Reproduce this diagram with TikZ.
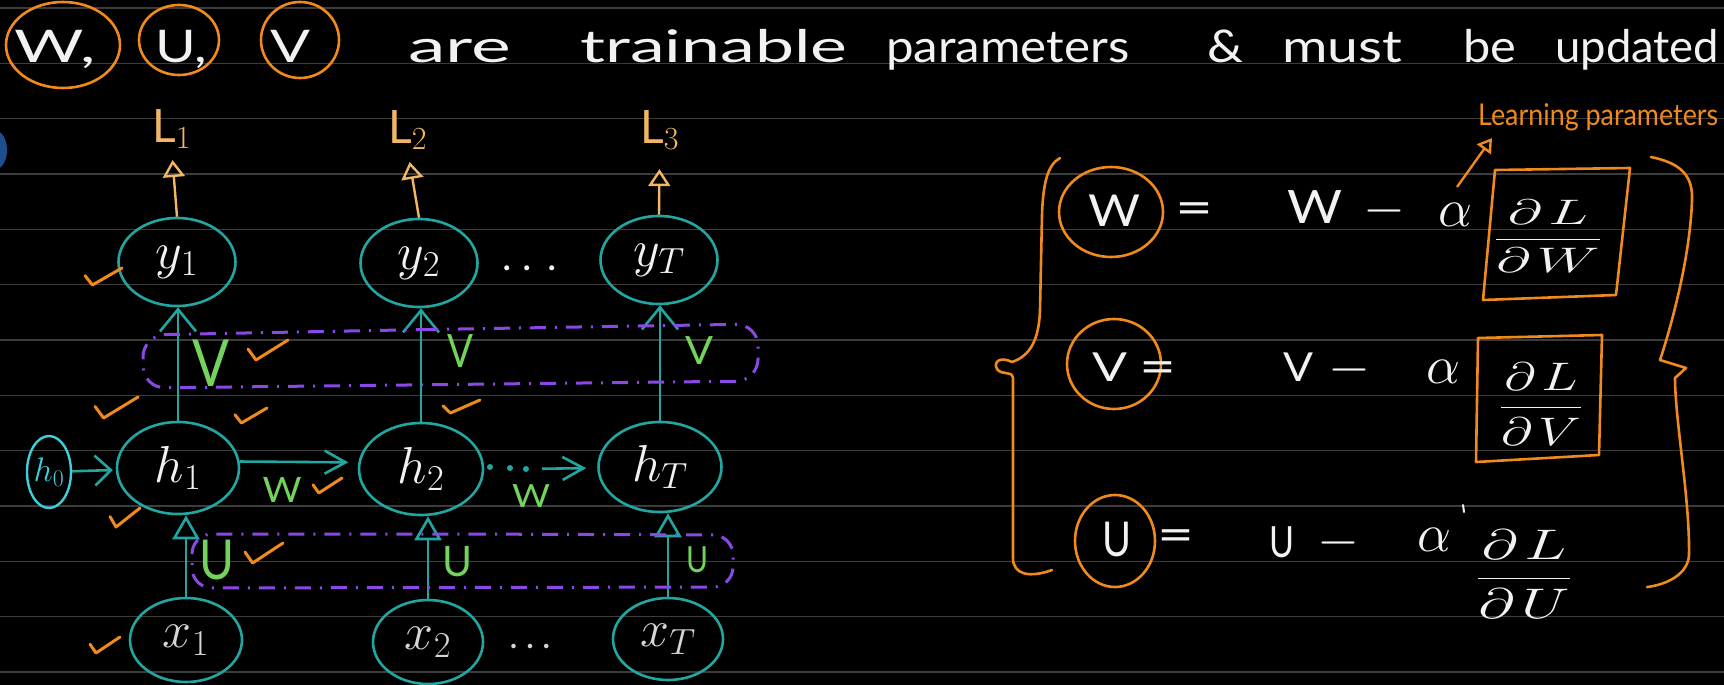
\RequirePackage{fix-cm}
\documentclass[tikz,border=0pt]{standalone}
\usepackage{graphicx}
\usepackage{fontspec}
\setmainfont{Lato}
\usetikzlibrary{arrows.meta,shapes.geometric}
\definecolor{bgc}{HTML}{000000}
\definecolor{rulec}{HTML}{3C3C3C}
\definecolor{tealc}{HTML}{22A6A2}
\definecolor{cyanc}{HTML}{3FCFDA}
\definecolor{orc}{HTML}{F08A1C}
\definecolor{lorc}{HTML}{F3B763}
\definecolor{grc}{HTML}{74D35C}
\definecolor{puc}{HTML}{8A48E6}
\definecolor{whc}{HTML}{F2F2F2}
\definecolor{grayc}{HTML}{D6D6D6}
\definecolor{bluec}{HTML}{1D4F8E}
\newcommand{\hw}[2]{\resizebox{#1pt}{\height}{#2}}
\tikzset{
  fs/.style={font=\fontsize{#1}{#1}\selectfont},
  rnode/.style={ellipse, draw=tealc, line width=2.6pt, inner sep=0pt, text=whc, fs=52},
  ocirc/.style={ellipse, draw=orc, line width=2.6pt, inner sep=0pt},
  txt/.style={inner sep=0pt, text=whc},
  gl/.style={inner sep=0pt, text=grc},
  conn/.style={draw=tealc, line width=2.6pt},
  upV/.style={conn, -{Straight Barb[length=22pt,width=36pt]}},
  rightV/.style={conn, -{Straight Barb[length=16pt,width=30pt]}},
  rightVs/.style={conn, -{Straight Barb[length=21pt,width=23pt]}},
  upTri/.style={conn, -{Triangle[open,length=24pt,width=27pt]}},
  larrow/.style={draw=lorc, line width=2.4pt, -{Triangle[open,length=17pt,width=22pt]}},
  oarrow/.style={draw=orc, line width=2.4pt, -{Triangle[open,length=14pt,width=17pt]}},
  chk/.style={draw=orc, line width=3pt, line cap=round, line join=round},
  loopbox/.style={draw=puc, line width=3pt, dash pattern=on 16pt off 9pt on 2pt off 9pt, rounded corners=22pt},
  obox/.style={draw=orc, line width=2.6pt, line join=round},
  bracepath/.style={draw=orc, line width=2.6pt, line cap=round, line join=round}
}
\begin{document}
\begin{tikzpicture}[x=1pt,y=-1pt]
\useasboundingbox (0,0) rectangle (1724,685);
\fill[bgc] (0,0) rectangle (1724,685);
\clip (0,0) rectangle (1724,685);
% ruled paper
\foreach \k in {0,...,12}
  \draw[rulec, line width=1.2pt] (0,{8+55.33*\k}) -- (1724,{8+55.33*\k});
% blue blob at the left edge
\fill[bluec] (-4,150) ellipse [x radius=11, y radius=19];

% ---------- title ----------
\node[ocirc, minimum width=114pt, minimum height=86pt] (cW) at (63,45) {};
\node[ocirc, minimum width=80pt, minimum height=70pt] (cU) at (179,40) {};
\node[ocirc, minimum width=78pt, minimum height=76pt] (cV) at (300,40) {};
\node[txt, fs=45, anchor=base west] (tW) at (14,63) {\hw{81}{W,}};
\node[txt, fs=45, anchor=base west] (tU) at (155,63) {\hw{52}{U,}};
\node[txt, fs=45, anchor=base west] (tV) at (270,63) {\hw{40}{V}};
\node[txt, fs=45, anchor=base west] (tare) at (408,63) {\hw{103}{are}};
\node[txt, fs=45, anchor=base west] (ttr) at (580,63) {\hw{267}{trainable}};
\node[txt, fs=45, anchor=base west] (tpar) at (886,63) {\hw{243}{parameters}};
\node[txt, fs=45, anchor=base west] (tamp) at (1207,63) {\hw{36}{\&}};
\node[txt, fs=45, anchor=base west] (tmust) at (1282,63) {\hw{120}{must}};
\node[txt, fs=45, anchor=base west] (tbe) at (1463,63) {\hw{53}{be}};
\node[txt, fs=45, anchor=base west] (tupd) at (1555,63) {\hw{164}{updated}};

% ---------- RNN ----------
\node[rnode, minimum width=117pt, minimum height=88pt] (y1) at (177,262) {$y_1$};
\node[rnode, minimum width=117pt, minimum height=88pt] (y2) at (419,263) {$y_2$};
\node[rnode, minimum width=117pt, minimum height=88pt] (yT) at (659,260) {$y_T$};
\node[rnode, minimum width=122pt, minimum height=92pt] (h1) at (178,468) {$h_1$};
\node[rnode, minimum width=124pt, minimum height=92pt] (h2) at (421,469) {$h_2$};
\node[rnode, minimum width=123pt, minimum height=90pt] (hT) at (660,467) {$h_T$};
\node[rnode, text=grayc, minimum width=112pt, minimum height=84pt] (x1) at (186,640) {$x_1$};
\node[rnode, text=grayc, minimum width=110pt, minimum height=84pt] (x2) at (428,642) {$x_2$};
\node[rnode, text=grayc, minimum width=110pt, minimum height=82pt] (xT) at (668,639) {$x_T$};
\node[ellipse, draw=cyanc, line width=2.4pt, inner sep=0pt, text=cyanc, fs=34,
      minimum width=44pt, minimum height=72pt] (h0) at (49,472) {$h_0$};

% loss labels
\node[txt, text=lorc, fs=46, anchor=base west] (L1) at (152,142) {$\mathrm{L}_1$};
\node[txt, text=lorc, fs=46, anchor=base west] (L2) at (388,143) {$\mathrm{L}_2$};
\node[txt, text=lorc, fs=46, anchor=base west] (L3) at (640,143) {$\mathrm{L}_3$};
\draw[larrow, shorten >=11pt] (y1.north) -- (L1.south);
\draw[larrow, shorten >=12pt] (y2.north) -- (L2.south);
\draw[larrow, shorten >=19pt] (yT.north) -- (L3.south);

% h -> y
\draw[upV] (h1.north) -- (h1.north |- y1.south);
\draw[upV] (h2.north) -- (h2.north |- y2.south);
\draw[upV] (hT.north) -- (hT.north |- yT.south);
% x -> h
\draw[upTri] (x1.north) -- (x1.north |- h1.south);
\draw[upTri] (x2.north) -- (x2.north |- h2.south);
\draw[upTri] (xT.north) -- (xT.north |- hT.south);
% h -> h
\draw[rightV, shorten >=3pt] (h0) -- (h1);
\draw[rightVs, shorten >=10pt] (h1.6) -- (h2.174);
\node[circle, fill=tealc, inner sep=0pt, minimum size=6pt] (dt1) at (490,467) {};
\node[circle, fill=tealc, inner sep=0pt, minimum size=6pt] (dt2) at (510,468) {};
\node[circle, fill=tealc, inner sep=0pt, minimum size=6pt] (dt3) at (526,469) {};
\draw[rightVs, shorten <=13pt, shorten >=11pt] (dt3) -- (hT);

% ellipses of dots
\node[txt, fs=40] (ydots) at (530,268) {.\hspace{10pt}.\hspace{16pt}.};
\node[txt, text=grayc, fs=36] (xdots) at (530,647) {.\hspace{8pt}.\hspace{8pt}.};

% weight labels
\node[gl, fs=35] (wl1) at (282,490) {\hw{39}{W}};
\node[gl, fs=32] (wl2) at (531,496) {\hw{38}{W}};
\node[gl, fs=65] (vl1) at (211,363) {\hw{37}{V}};
\node[gl, fs=46] (vl2) at (460,351) {\hw{26}{V}};
\node[gl, fs=39] (vl3) at (699,351) {\hw{28}{V}};
\node[gl, fs=55] (ul1) at (217,560) {\hw{35}{U}};
\node[gl, fs=42] (ul2) at (457,562) {\hw{30}{U}};
\node[gl, fs=36] (ul3) at (697,560) {\hw{22}{U}};

% purple dashed loops
\draw[loopbox] (400,330) -- (758,324) -- (758,381) -- (143,388) -- (143,335) -- cycle;
\draw[loopbox, rounded corners=20pt] (450,534) -- (733,535) -- (733,587) -- (192,588) -- (192,534) -- cycle;

% orange check marks
\foreach \a/\b/\c/\d in {85/268/122/285, 248/340/288/360, 95/397/138/418, 235/408/267/423,
    443/400/480/413, 313/478/342/493, 110/508/140/527, 245/543/283/563, 90/637/120/653}
  \draw[chk] ({\a},{\b+0.45*(\d-\b)}) -- ({\a+0.2*(\c-\a)},{\d}) -- ({\c},{\b});

% ---------- update rules ----------
\draw[bracepath] (1060,158) .. controls (1047,165) and (1043,185) .. (1042,215)
  -- (1040,310) .. controls (1039,340) and (1030,356) .. (1012,362)
  .. controls (1000,356) and (993,362) .. (997,369) .. controls (1002,376) and (1012,370) .. (1013,378)
  -- (1013,558) .. controls (1013,575) and (1030,578) .. (1052,570);
\draw[bracepath] (1651,157) .. controls (1680,163) and (1693,175) .. (1692,200)
  .. controls (1690,260) and (1670,330) .. (1660,360) -- (1686,368) -- (1675,378)
  .. controls (1675,420) and (1690,500) .. (1689,555)
  .. controls (1688,575) and (1665,585) .. (1647,587);

\node[ocirc, minimum width=104pt, minimum height=90pt] (ceW) at (1111,212) {};
\node[ocirc, minimum width=94pt, minimum height=90pt] (ceV) at (1114,364) {};
\node[ocirc, minimum width=80pt, minimum height=92pt] (ceU) at (1115,541) {};

% row W
\node[txt, fs=44] (eW1) at (1114,211) {\hw{52}{W}};
\node[txt, fs=48] (eq1) at (1194,214) {\hw{38}{=}};
\node[txt, fs=46] (eW2) at (1315,207) {\hw{55}{W}};
\node[txt, fs=54] (mn1) at (1384,211) {$-$};
\node[txt, fs=54] (al1) at (1455,215) {$\alpha$};
\node[txt, fs=40] (fr1) at (1548,236) {\resizebox*{107pt}{73pt}{$\displaystyle\frac{\partial\mkern2mu L}{\partial\mkern2mu W}$}};
\draw[obox] (1495,170) -- (1630,168) -- (1616,295) -- (1483,300) -- cycle;
% row V
\node[txt, fs=40] (eV1) at (1110,367) {\hw{35}{V}};
\node[txt, fs=48] (eq2) at (1158,373) {\hw{37}{=}};
\node[txt, fs=40] (eV2) at (1298,367) {\hw{30}{V}};
\node[txt, fs=54] (mn2) at (1349,370) {$-$};
\node[txt, fs=54] (al2) at (1443,372) {$\alpha$};
\node[txt, fs=40] (fr2) at (1541,404) {\resizebox*{83pt}{82pt}{$\displaystyle\frac{\partial\mkern2mu L}{\partial\mkern2mu V}$}};
\draw[obox] (1478,338) -- (1602,335) -- (1599,455) -- (1476,462) -- cycle;
% row U
\node[txt, fs=48] (eU1) at (1117,540) {\hw{29}{U}};
\node[txt, fs=48] (eq3) at (1176,541) {\hw{37}{=}};
\node[txt, fs=43] (eU2) at (1282,542) {\hw{25}{U}};
\node[txt, fs=54] (mn3) at (1338,543) {$-$};
\node[txt, fs=54] (al3) at (1434,540) {$\alpha$};
\draw[whc, line width=2pt, line cap=round] (1463,505) -- (1464,512);
\node[txt, fs=40] (fr3) at (1524,574) {\resizebox*{95pt}{88pt}{$\displaystyle\frac{\partial\mkern2mu L}{\partial\mkern2mu U}$}};

% learning parameters note
\node[txt, text=orc, fs=30, anchor=base west] (lp) at (1478,125) {\hw{240}{Learning parameters}};
\coordinate (lpstart) at (1457,187);
\coordinate (lptip) at (1492,138);
\draw[oarrow] (lpstart) -- (lptip);
\end{tikzpicture}
\end{document}
